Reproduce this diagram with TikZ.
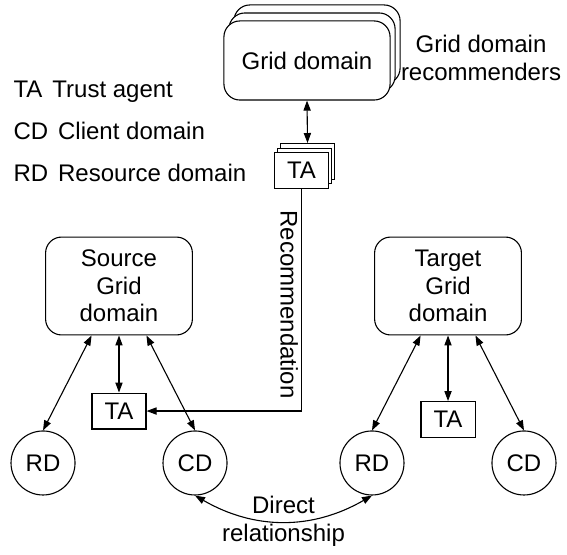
\documentclass[tikz,border=0pt]{standalone}
\usepackage{fontspec}
\setmainfont{Liberation Sans}
\usetikzlibrary{arrows.meta}

\begin{document}
\begin{tikzpicture}[
    >={Triangle[length=5pt,width=3.6pt]},
    line width=0.55pt,
    every node/.style={font=\fontsize{12}{13.8}\selectfont},
    dom/.style={draw, fill=white, rounded corners=8pt, align=center, inner sep=0pt},
    gdbox/.style={dom, minimum width=2.92cm, minimum height=1.39cm},
    site/.style={dom, minimum width=2.58cm, minimum height=1.72cm},
    agent/.style={draw, fill=white, inner sep=0pt, minimum width=0.95cm, minimum height=0.63cm},
    party/.style={draw, circle, inner sep=0pt, minimum size=1.125cm},
    legentry/.style={anchor=base west, inner sep=0pt},
  ]
  \useasboundingbox (0,0) rectangle (9.964,-9.753);
  % legend
  \node[legentry] (lta) at (0.228,-1.705) {TA\hspace{5pt}Trust agent};
  \node[legentry] (lcd) at (0.228,-2.451) {CD\hspace{5pt}Client domain};
  \node[legentry] (lrd) at (0.228,-3.198) {RD\hspace{5pt}Resource domain};
  % recommender stack with its trust agents
  \node[gdbox] (gd2) at (5.571,-0.782) {};
  \node[gdbox] (gd1) at (5.483,-0.923) {};
  \node[gdbox] (gd)  at (5.395,-1.063) {Grid domain};
  \node[align=center] (rec) at (8.453,-1.019) {Grid domain\\recommenders};
  \node[agent] (ta2) at (5.404,-2.838) {};
  \node[agent] (ta1) at (5.351,-2.917) {};
  \node[agent] (ta)  at (5.298,-2.996) {TA};
  % source and target domains
  \node[site] (src) at (2.091,-5.026) {Source\\Grid\\domain};
  \node[site] (tgt) at (7.873,-5.026) {Target\\Grid\\domain};
  \node[agent] (sta) at (2.091,-7.223) {TA};
  \node[agent] (tta) at (7.873,-7.372) {TA};
  \node[party] (rd1) at (0.756,-8.136) {RD};
  \node[party] (cd1) at (3.427,-8.136) {CD};
  \node[party] (rd2) at (6.537,-8.136) {RD};
  \node[party] (cd2) at (9.208,-8.136) {CD};
  % links
  \draw[<->] (gd.south) -- (ta2.north);
  \draw[->] (ta.south) |- node[pos=0.26, rotate=-90, anchor=north, inner sep=1.5pt] {Recommendation} (sta.east);
  \draw[<->] (src.south) -- (sta.north);
  \draw[<->] (src.241) -- (rd1.north);
  \draw[<->] (src.299) -- (cd1.north);
  \draw[<->] (tgt.south) -- (tta.north);
  \draw[<->] (tgt.241) -- (rd2.north);
  \draw[<->] (tgt.299) -- (cd2.north);
  \draw[<->] (cd1.south) to[bend right=30] node[align=center] {Direct\\relationship} (rd2.south);
\end{tikzpicture}
\end{document}
